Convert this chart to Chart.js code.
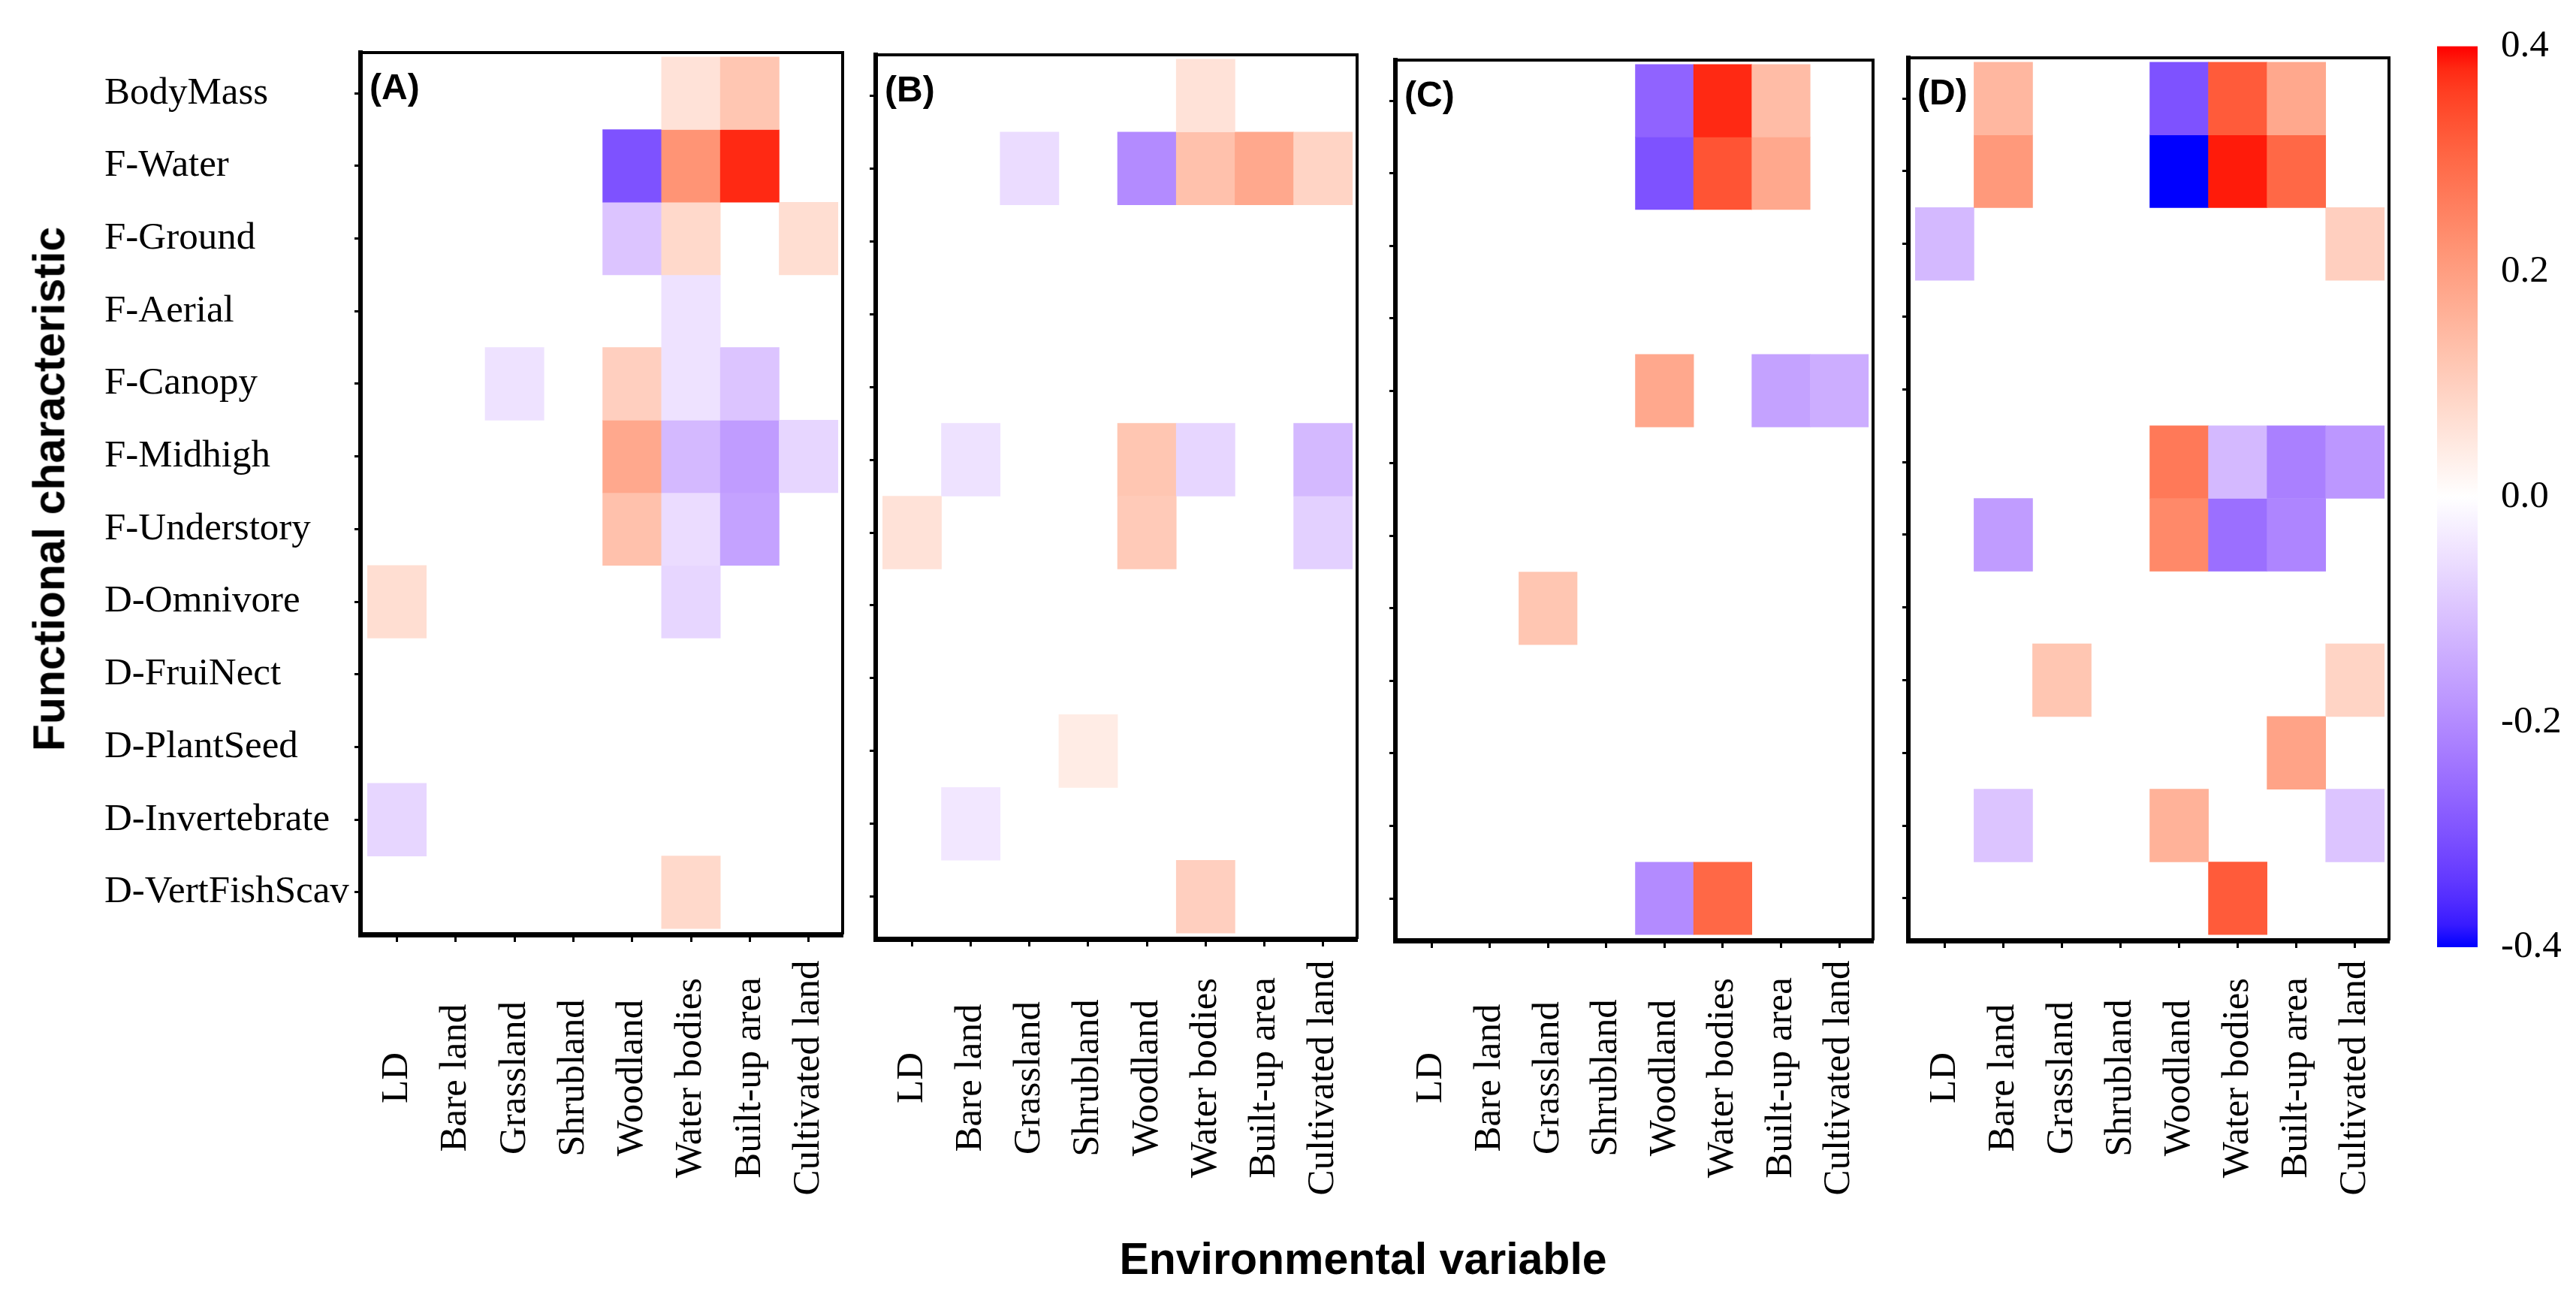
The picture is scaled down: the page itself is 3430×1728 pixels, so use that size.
<!DOCTYPE html>
<html lang="en-US">
<head>
<meta charset="UTF-8">
<title>Functional characteristic vs environmental variable</title>
<script src="https://cdn.jsdelivr.net/npm/chart.js@4.4.1/dist/chart.umd.min.js"></script>
<style>
    body { margin: 0; background: #fff; }
    #wrap { position: relative; width: 3430px; height: 1728px; overflow: hidden; background: #fff; }
    canvas { position: absolute; top: 0; }
    .title { position: absolute; font: bold 59px "Liberation Sans", Arial, sans-serif; color: #000;
             white-space: nowrap; line-height: 1; transform: translate(-50%, -50%); }
    #ytitle { left: 66px; top: 651px; transform: translate(-50%, -50%) rotate(-90deg); }
    #xtitle { left: 1815px; top: 1676px; }
</style>
</head>
<body>
<div id="wrap">
    <canvas id="panelA"></canvas>
    <canvas id="panelB"></canvas>
    <canvas id="panelC"></canvas>
    <canvas id="panelD"></canvas>
    <canvas id="scaleBar"></canvas>
    <div class="title" id="ytitle">Functional characteristic</div>
    <div class="title" id="xtitle">Environmental variable</div>
</div>

<script>
    // rows (top to bottom) and columns (left to right)
    var rows = ['BodyMass', 'F-Water', 'F-Ground', 'F-Aerial', 'F-Canopy', 'F-Midhigh', 'F-Understory',
        'D-Omnivore', 'D-FruiNect', 'D-PlantSeed', 'D-Invertebrate', 'D-VertFishScav'];
    var cols = ['LD', 'Bare land', 'Grassland', 'Shrubland', 'Woodland', 'Water bodies', 'Built-up area', 'Cultivated land'];

    // values, one line per row, 0 = blank cell
    var panelA = [
        [0, 0, 0, 0, 0, 0.06, 0.12, 0],
        [0, 0, 0, 0, -0.3, 0.22, 0.38, 0],
        [0, 0, 0, 0, -0.1, 0.08, 0, 0.07],
        [0, 0, 0, 0, 0, -0.05, 0, 0],
        [0, 0, -0.05, 0, 0.1, -0.05, -0.1, 0],
        [0, 0, 0, 0, 0.18, -0.12, -0.17, -0.07],
        [0, 0, 0, 0, 0.13, -0.06, -0.16, 0],
        [0.07, 0, 0, 0, 0, -0.07, 0, 0],
        [0, 0, 0, 0, 0, 0, 0, 0],
        [0, 0, 0, 0, 0, 0, 0, 0],
        [-0.07, 0, 0, 0, 0, 0, 0, 0],
        [0, 0, 0, 0, 0, 0.08, 0, 0]
    ];
    var panelB = [
        [0, 0, 0, 0, 0, 0.06, 0, 0],
        [0, 0, -0.06, 0, -0.2, 0.13, 0.18, 0.09],
        [0, 0, 0, 0, 0, 0, 0, 0],
        [0, 0, 0, 0, 0, 0, 0, 0],
        [0, 0, 0, 0, 0, 0, 0, 0],
        [0, -0.05, 0, 0, 0.12, -0.07, 0, -0.12],
        [0.06, 0, 0, 0, 0.11, 0, 0, -0.08],
        [0, 0, 0, 0, 0, 0, 0, 0],
        [0, 0, 0, 0, 0, 0, 0, 0],
        [0, 0, 0, 0.04, 0, 0, 0, 0],
        [0, -0.04, 0, 0, 0, 0, 0, 0],
        [0, 0, 0, 0, 0, 0.1, 0, 0]
    ];
    var panelC = [
        [0, 0, 0, 0, -0.27, 0.38, 0.14, 0],
        [0, 0, 0, 0, -0.3, 0.33, 0.18, 0],
        [0, 0, 0, 0, 0, 0, 0, 0],
        [0, 0, 0, 0, 0, 0, 0, 0],
        [0, 0, 0, 0, 0.18, 0, -0.16, -0.14],
        [0, 0, 0, 0, 0, 0, 0, 0],
        [0, 0, 0, 0, 0, 0, 0, 0],
        [0, 0, 0.12, 0, 0, 0, 0, 0],
        [0, 0, 0, 0, 0, 0, 0, 0],
        [0, 0, 0, 0, 0, 0, 0, 0],
        [0, 0, 0, 0, 0, 0, 0, 0],
        [0, 0, 0, 0, -0.2, 0.3, 0, 0]
    ];
    var panelD = [
        [0, 0.15, 0, 0, -0.3, 0.32, 0.18, 0],
        [0, 0.21, 0, 0, -0.4, 0.39, 0.3, 0],
        [-0.12, 0, 0, 0, 0, 0, 0, 0.1],
        [0, 0, 0, 0, 0, 0, 0, 0],
        [0, 0, 0, 0, 0, 0, 0, 0],
        [0, 0, 0, 0, 0.27, -0.12, -0.22, -0.18],
        [0, -0.17, 0, 0, 0.24, -0.25, -0.21, 0],
        [0, 0, 0, 0, 0, 0, 0, 0],
        [0, 0, 0.12, 0, 0, 0, 0, 0.09],
        [0, 0, 0, 0, 0, 0, 0.19, 0],
        [0, -0.1, 0, 0, 0.16, 0, 0, -0.1],
        [0, 0, 0, 0, 0, 0.32, 0, 0]
    ];
    var panelTags = ['(A)', '(B)', '(C)', '(D)'];
    var scaleLimits = [-0.4, 0.4];
    var scaleTicks = [-0.4, -0.2, 0, 0.2, 0.4];

    var serif = "'Liberation Serif', 'Times New Roman', serif";

    // blue - white - red, mixed in Lab like ggplot's gradient2
    function toLinear(c) { c /= 255; return c <= 0.04045 ? c / 12.92 : Math.pow((c + 0.055) / 1.055, 2.4); }
    function fromLinear(c) {
        c = c <= 0.0031308 ? 12.92 * c : 1.055 * Math.pow(c, 1 / 2.4) - 0.055;
        return Math.round(Math.max(0, Math.min(1, c)) * 255);
    }
    function rgbToLab(rgb) {
        var r = toLinear(rgb[0]), g = toLinear(rgb[1]), b = toLinear(rgb[2]);
        var x = (0.4124 * r + 0.3576 * g + 0.1805 * b) / 0.95047;
        var y = 0.2126 * r + 0.7152 * g + 0.0722 * b;
        var z = (0.0193 * r + 0.1192 * g + 0.9505 * b) / 1.08883;
        var f = function (t) { return t > 0.008856 ? Math.cbrt(t) : 7.787 * t + 16 / 116; };
        return [116 * f(y) - 16, 500 * (f(x) - f(y)), 200 * (f(y) - f(z))];
    }
    function labToRgb(lab) {
        var fy = (lab[0] + 16) / 116, fx = fy + lab[1] / 500, fz = fy - lab[2] / 200;
        var inv = function (t) { return t > 0.206893 ? t * t * t : (t - 16 / 116) / 7.787; };
        var x = inv(fx) * 0.95047, y = inv(fy), z = inv(fz) * 1.08883;
        return [
            fromLinear(3.2406 * x - 1.5372 * y - 0.4986 * z),
            fromLinear(-0.9689 * x + 1.8758 * y + 0.0415 * z),
            fromLinear(0.0557 * x - 0.2040 * y + 1.0570 * z)
        ];
    }
    var labLow = rgbToLab([0, 0, 255]), labMid = rgbToLab([255, 255, 255]), labHigh = rgbToLab([255, 0, 0]);
    function fillFor(v) {
        var t = Math.max(-1, Math.min(1, v / scaleLimits[1]));
        var end = t < 0 ? labLow : labHigh;
        t = Math.abs(t);
        var c = labToRgb([0, 1, 2].map(function (k) { return labMid[k] + (end[k] - labMid[k]) * t; }));
        return 'rgb(' + c[0] + ',' + c[1] + ',' + c[2] + ')';
    }

    var H = 1728;
    var labelY = 1435;   // centre line of the rotated column names
    var xHeight = 14;

    var framePlugin = {
        id: 'frame',
        afterDraw: function (chart) {
            var a = chart.chartArea, ctx = chart.ctx;
            ctx.save();
            ctx.strokeStyle = '#000';
            ctx.lineWidth = 4;
            ctx.beginPath();
            ctx.moveTo(a.left, a.top);
            ctx.lineTo(a.right, a.top);
            ctx.lineTo(a.right, a.bottom);
            ctx.stroke();
            // panel tag
            ctx.fillStyle = '#000';
            ctx.font = "bold 48px 'Liberation Sans', Arial, sans-serif";
            ctx.textAlign = 'left';
            ctx.textBaseline = 'alphabetic';
            ctx.fillText(chart.options.plugins.frame.tag, a.left + 12, a.top + 62);
            // column names, rotated and centred like the original
            var xs = chart.scales.x;
            ctx.font = '51px ' + serif;
            ctx.textAlign = 'center';
            ctx.textBaseline = 'middle';
            cols.forEach(function (c, i) {
                ctx.save();
                ctx.translate(xs.getPixelForValue(i + 1), labelY);
                ctx.rotate(-Math.PI / 2);
                ctx.fillText(c, 0, 0);
                ctx.restore();
            });
            ctx.restore();
        }
    };

    function makePanel(id, values, tag, box) {
        var canvas = document.getElementById(id);
        canvas.width = box.canvasRight - box.canvasLeft;
        canvas.height = H;
        canvas.style.left = box.canvasLeft + 'px';

        var datasets = rows.map(function (name, r) {
            return {
                label: name,
                data: cols.map(function (c, j) {
                    return { x: j + 1, y: values[r][j] ? [r + 0.5, r + 1.5] : null };
                }),
                backgroundColor: values[r].map(fillFor),
                borderWidth: 0,
                grouped: false,
                barPercentage: 1,
                categoryPercentage: 1
            };
        });

        return new Chart(canvas, {
            type: 'bar',
            data: { datasets: datasets },
            options: {
                responsive: false,
                animation: false,
                layout: {
                    padding: {
                        left: box.left - box.canvasLeft - box.yWidth,
                        right: box.canvasRight - box.right,
                        top: box.top,
                        bottom: H - box.bottom - xHeight
                    }
                },
                plugins: {
                    legend: { display: false },
                    tooltip: { enabled: false },
                    frame: { tag: tag }
                },
                scales: {
                    x: {
                        type: 'linear',
                        offset: false,
                        min: 0.38,
                        max: 8.58,
                        afterBuildTicks: function (axis) {
                            axis.ticks = cols.map(function (c, i) { return { value: i + 1 }; });
                        },
                        afterFit: function (axis) { axis.height = xHeight; },
                        ticks: { display: false },
                        grid: { display: true, offset: false, drawOnChartArea: false, drawTicks: true, tickLength: 10, tickWidth: 3, tickColor: '#000' },
                        border: { display: true, width: 7, color: '#000' }
                    },
                    y: {
                        type: 'linear',
                        reverse: true,
                        min: 0.44,
                        max: 12.58,
                        afterBuildTicks: function (axis) {
                            axis.ticks = rows.map(function (c, i) { return { value: i + 1 }; });
                        },
                        afterFit: function (axis) { axis.width = box.yWidth; },
                        ticks: {
                            display: box.rowLabels,
                            crossAlign: 'far',
                            color: '#000',
                            font: { family: serif, size: 51 },
                            callback: function (v) { return rows[v - 1]; }
                        },
                        grid: { display: true, drawOnChartArea: false, drawTicks: true, tickLength: 8, tickWidth: 3, tickColor: '#000' },
                        border: { display: true, width: 6, color: '#000' }
                    }
                }
            },
            plugins: [framePlugin]
        });
    }

    makePanel('panelA', panelA, panelTags[0], { left: 480, right: 1122, top: 70, bottom: 1244, canvasLeft: 0, canvasRight: 1140, yWidth: 341, rowLabels: true });
    makePanel('panelB', panelB, panelTags[1], { left: 1166, right: 1807, top: 73, bottom: 1250, canvasLeft: 1100, canvasRight: 1830, yWidth: 30, rowLabels: false });
    makePanel('panelC', panelC, panelTags[2], { left: 1858, right: 2494, top: 80, bottom: 1252, canvasLeft: 1830, canvasRight: 2510, yWidth: 30, rowLabels: false });
    makePanel('panelD', panelD, panelTags[3], { left: 2541, right: 3181, top: 77, bottom: 1252, canvasLeft: 2510, canvasRight: 3200, yWidth: 30, rowLabels: false });

    // colour key on the right
    var bar = document.getElementById('scaleBar');
    bar.width = 230;
    bar.height = H;
    bar.style.left = '3200px';
    new Chart(bar, {
        type: 'bar',
        data: {
            labels: [''],
            datasets: [{
                data: [scaleLimits],
                borderWidth: 0,
                barPercentage: 1,
                categoryPercentage: 1,
                backgroundColor: function (ctx) {
                    var chart = ctx.chart, ys = chart.scales.y;
                    if (!chart.chartArea || !ys) return '#fff';
                    var top = ys.getPixelForValue(scaleLimits[1]), bottom = ys.getPixelForValue(scaleLimits[0]);
                    var g = chart.ctx.createLinearGradient(0, top, 0, bottom);
                    for (var i = 0; i <= 40; i++) {
                        g.addColorStop(i / 40, fillFor(scaleLimits[1] - (scaleLimits[1] - scaleLimits[0]) * i / 40));
                    }
                    return g;
                }
            }]
        },
        options: {
            responsive: false,
            animation: false,
            layout: { padding: { left: 45, right: 0, top: 56, bottom: H - 1261 } },
            plugins: { legend: { display: false }, tooltip: { enabled: false } },
            scales: {
                x: { display: false },
                y: {
                    position: 'right',
                    min: scaleLimits[0],
                    max: scaleLimits[1],
                    afterBuildTicks: function (axis) {
                        axis.ticks = scaleTicks.map(function (v) { return { value: v }; });
                    },
                    afterFit: function (axis) { axis.width = 131; },
                    ticks: {
                        padding: 31,
                        crossAlign: 'near',
                        color: '#000',
                        font: { family: serif, size: 51 },
                        callback: function (v) { return Math.abs(v) < 1e-9 ? '0.0' : v.toFixed(1); }
                    },
                    grid: { display: false, drawTicks: false },
                    border: { display: false }
                }
            }
        }
    });
</script>
</body>
</html>
